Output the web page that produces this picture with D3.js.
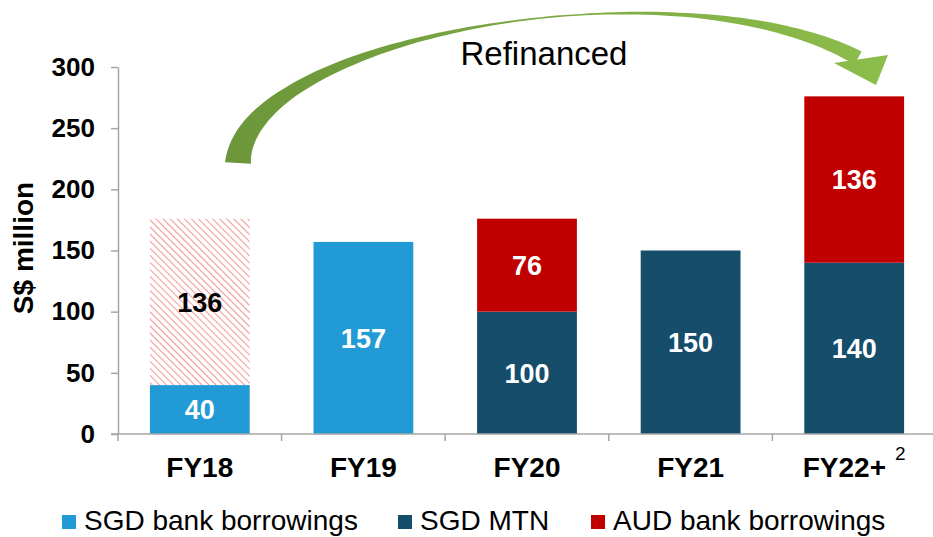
<!DOCTYPE html>
<html>
<head>
<meta charset="utf-8">
<script src="https://cdn.jsdelivr.net/npm/d3@7"></script>
<style>
  body { margin: 0; background: #fff; }
  text { font-family: "Liberation Sans", Arial, sans-serif; }
</style>
</head>
<body>
<svg id="chart" width="933" height="537"></svg>
<script>
// data
var categories = ["FY18", "FY19", "FY20", "FY21", "FY22+"];
var sgdBank = [40, 157, 0, 0, 0];
var sgdMtn = [0, 0, 100, 150, 140];
var audBank = [0, 0, 76, 0, 136];
var refinanced = [136, 0, 0, 0, 0];
var yTicks = [0, 50, 100, 150, 200, 250, 300];
var seriesNames = ["SGD bank borrowings", "SGD MTN", "AUD bank borrowings"];

var colors = {
    sgdBank: "#229ad6",
    sgdMtn: "#154d6b",
    audBank: "#c00000",
    refinanced: "url(#hatch)"
};

var width = 933,
    height = 537,
    margin = {top: 67, bottom: 103, left: 118, right: -3};

var svg = d3.select("#chart");

var defs = svg.append("defs");
var pat = defs.append("pattern")
    .attr("id", "hatch")
    .attr("patternUnits", "userSpaceOnUse")
    .attr("width", 5)
    .attr("height", 5)
    .attr("patternTransform", "rotate(-45)");
pat.append("rect").attr("width", 5).attr("height", 5).attr("fill", "#fff");
pat.append("line")
    .attr("x1", 0).attr("y1", 0).attr("x2", 0).attr("y2", 5)
    .attr("stroke", "#f39a9a")
    .attr("stroke-width", 2.2);

var grad = defs.append("linearGradient")
    .attr("id", "arrowGrad")
    .attr("gradientUnits", "userSpaceOnUse")
    .attr("x1", 220).attr("y1", 0).attr("x2", 890).attr("y2", 0);
grad.append("stop").attr("offset", 0).attr("stop-color", "#6b963a");
grad.append("stop").attr("offset", 1).attr("stop-color", "#8dbd4b");

var table = categories.map(function (c, i) {
    return {cat: c, sgdBank: sgdBank[i], sgdMtn: sgdMtn[i], audBank: audBank[i], refinanced: refinanced[i]};
});
var keys = ["sgdBank", "sgdMtn", "audBank", "refinanced"];
var stacked = d3.stack().keys(keys)(table);

var xScale = d3.scaleBand()
    .domain(categories)
    .range([margin.left, width - margin.right])
    .paddingInner(0.39)
    .paddingOuter(0.195);

var yScale = d3.scaleLinear()
    .domain([0, 300])
    .range([height - margin.bottom, margin.top]);

// bars
var layers = svg.selectAll(".layer")
    .data(stacked)
    .enter().append("g")
    .attr("class", "layer")
    .attr("fill", function (d) { return colors[d.key]; });

layers.selectAll("rect")
    .data(function (d) { return d.filter(function (p) { return p[1] > p[0]; }); })
    .enter().append("rect")
    .attr("x", function (d) { return xScale(d.data.cat); })
    .attr("y", function (d) { return yScale(d[1]); })
    .attr("width", xScale.bandwidth())
    .attr("height", function (d) { return yScale(d[0]) - yScale(d[1]); });

// bar labels
stacked.forEach(function (layer) {
    layer.forEach(function (d) {
        var v = d[1] - d[0];
        if (v <= 0) return;
        svg.append("text")
            .attr("x", xScale(d.data.cat) + xScale.bandwidth() / 2)
            .attr("y", yScale((d[0] + d[1]) / 2))
            .attr("dy", "0.36em")
            .attr("text-anchor", "middle")
            .attr("font-size", 27)
            .attr("font-weight", "bold")
            .attr("fill", layer.key === "refinanced" ? "#000" : "#fff")
            .text(v);
    });
});

// y axis
var yAxis = d3.axisLeft(yScale)
    .tickValues(yTicks)
    .tickSize(7)
    .tickSizeOuter(0)
    .tickPadding(16);

var yAxisG = svg.append("g")
    .attr("transform", "translate(" + margin.left + ",0)")
    .call(yAxis);
yAxisG.select(".domain").attr("stroke", "#a6a6a6").attr("stroke-width", 1.5);
yAxisG.selectAll(".tick line").attr("stroke", "#a6a6a6").attr("stroke-width", 1.5);
yAxisG.selectAll(".tick text")
    .attr("font-family", "Liberation Sans, Arial, sans-serif")
    .attr("font-size", 26)
    .attr("font-weight", "bold")
    .attr("fill", "#000");

// x axis: line with ticks at category boundaries
var y0 = yScale(0);
svg.append("line")
    .attr("x1", margin.left - 7).attr("x2", width)
    .attr("y1", y0).attr("y2", y0)
    .attr("stroke", "#a6a6a6").attr("stroke-width", 1.5);
var bounds = d3.range(categories.length + 1).map(function (i) {
    return xScale.range()[0] + i * xScale.step();
});
svg.selectAll(".xtick")
    .data(bounds)
    .enter().append("line")
    .attr("class", "xtick")
    .attr("x1", function (d) { return d; })
    .attr("x2", function (d) { return d; })
    .attr("y1", y0).attr("y2", y0 + 7)
    .attr("stroke", "#a6a6a6").attr("stroke-width", 1.5);

var catLabels = svg.selectAll(".cat")
    .data(categories)
    .enter().append("text")
    .attr("class", "cat")
    .attr("x", function (d) { return xScale(d) + xScale.bandwidth() / 2; })
    .attr("y", 477)
    .attr("text-anchor", "middle")
    .attr("font-size", 28)
    .attr("font-weight", "bold")
    .text(function (d) { return d; });
catLabels.filter(function (d) { return d === "FY22+"; })
    .append("tspan")
    .attr("dx", 9)
    .attr("dy", -17)
    .attr("font-size", 19)
    .attr("font-weight", "normal")
    .text("2");

// axis title
svg.append("text")
    .attr("transform", "translate(33,248) rotate(-90)")
    .attr("text-anchor", "middle")
    .attr("font-size", 28)
    .attr("font-weight", "bold")
    .text("S$ million");

// legend
var legendX = [62, 398, 591];
var legendKeys = ["sgdBank", "sgdMtn", "audBank"];
var legend = svg.selectAll(".legend")
    .data(seriesNames)
    .enter().append("g")
    .attr("class", "legend")
    .attr("transform", function (d, i) { return "translate(" + legendX[i] + ",0)"; });
legend.append("rect")
    .attr("x", 0).attr("y", 515)
    .attr("width", 14).attr("height", 14)
    .attr("fill", function (d, i) { return colors[legendKeys[i]]; });
legend.append("text")
    .attr("x", 22).attr("y", 530)
    .attr("font-size", 28)
    .text(function (d) { return d; });

// refinancing arrow (annotation)
var P0 = [238, 163], P1 = [245, 35], P2 = [680, -40], P3 = [858, 58];
var wT = [0, 0.2, 0.4, 0.52, 0.62, 0.75, 0.9, 1],
    wV = [26, 13, 5, 2, 1.5, 4, 10, 15];
var widthAt = d3.scaleLinear().domain(wT).range(wV);

function bez(t) {
    var u = 1 - t;
    var a = u * u * u, b = 3 * u * u * t, c = 3 * u * t * t, e = t * t * t;
    return [a * P0[0] + b * P1[0] + c * P2[0] + e * P3[0],
            a * P0[1] + b * P1[1] + c * P2[1] + e * P3[1]];
}
function bezD(t) {
    var u = 1 - t;
    return [3 * u * u * (P1[0] - P0[0]) + 6 * u * t * (P2[0] - P1[0]) + 3 * t * t * (P3[0] - P2[0]),
            3 * u * u * (P1[1] - P0[1]) + 6 * u * t * (P2[1] - P1[1]) + 3 * t * t * (P3[1] - P2[1])];
}
var outer = [], inner = [];
d3.range(0, 1.0001, 0.01).forEach(function (t) {
    var p = bez(t), d = bezD(t);
    var len = Math.sqrt(d[0] * d[0] + d[1] * d[1]);
    var nx = d[1] / len, ny = -d[0] / len;
    var w = widthAt(t) / 2;
    outer.push([p[0] + nx * w, p[1] + ny * w]);
    inner.push([p[0] - nx * w, p[1] - ny * w]);
});
var body = outer.concat(inner.reverse());
svg.append("path")
    .attr("d", d3.line()(body) + "Z")
    .attr("fill", "url(#arrowGrad)");
svg.append("path")
    .attr("d", d3.line()([[834, 63], [888, 55], [876, 85]]) + "Z")
    .attr("fill", "url(#arrowGrad)");

svg.append("text")
    .attr("x", 544)
    .attr("y", 65)
    .attr("text-anchor", "middle")
    .attr("font-size", 33)
    .text("Refinanced");
</script>
</body>
</html>
